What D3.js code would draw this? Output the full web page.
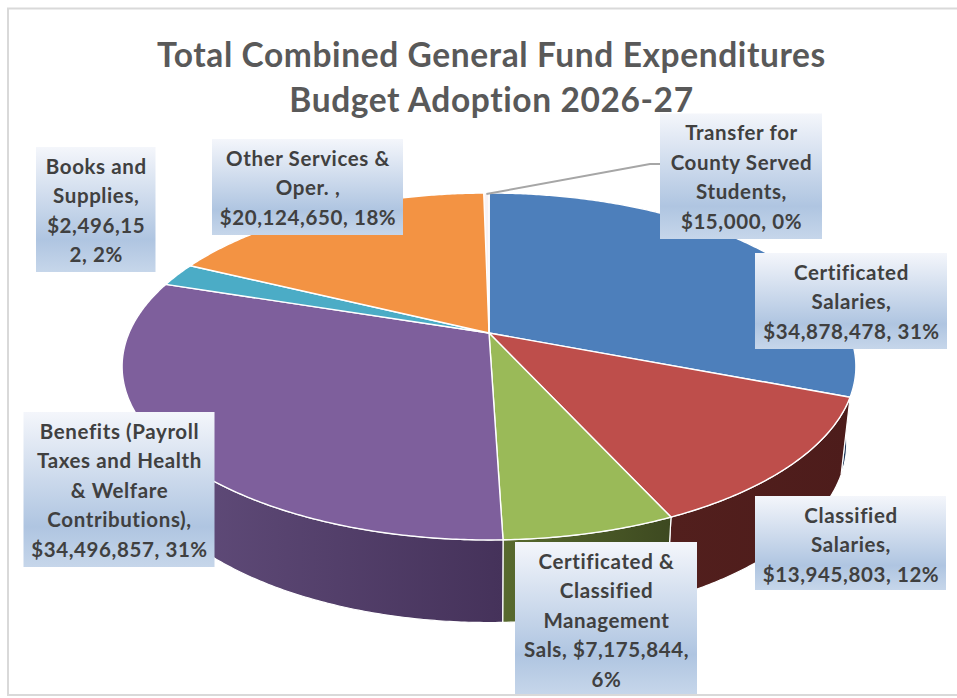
<!DOCTYPE html>
<html>
<head>
<meta charset="utf-8">
<script src="https://cdn.jsdelivr.net/npm/d3@7"></script>
<style>html,body{margin:0;padding:0;background:#fff;overflow:hidden}svg{display:block}</style>
</head>
<body>
<script>
const titleLines = ["Total Combined General Fund Expenditures", "Budget Adoption 2026-27"];
const categories = ["Certificated Salaries", "Classified Salaries", "Certificated & Classified Management Sals", "Benefits (Payroll Taxes and Health & Welfare Contributions)", "Books and Supplies", "Other Services & Oper.", "Transfer for County Served Students"];
const values = [34878478, 13945803, 7175844, 34496857, 2496152, 20124650, 15000];
const labelLines = [
  ["Certificated", "Salaries,", "$34,878,478, 31%"],
  ["Classified", "Salaries,", "$13,945,803, 12%"],
  ["Certificated &", "Classified", "Management", "Sals, $7,175,844,", "6%"],
  ["Benefits (Payroll", "Taxes and Health", "& Welfare", "Contributions),", "$34,496,857, 31%"],
  ["Books and", "Supplies,", "$2,496,15", "2, 2%"],
  ["Other Services &", "Oper. ,", "$20,124,650, 18%"],
  ["Transfer for", "County Served", "Students,", "$15,000, 0%"]
];
const topColors = ["#4d7fbb", "#be4e4b", "#9aba58", "#7e5f9c", "#4bacc6", "#f39343", "#f8f2f3"];
const sideLeft = ["#2a4a72", "#521f1d", "#586a2e", "#65507f", "#2d6f80", "#a05f28", "#999999"];
const sideRight = ["#223c5e", "#4d1c1b", "#3d4920", "#45325a", "#2d6f80", "#a05f28", "#999999"];

// layout
const W = 957, H = 698;
const labelBoxes = [[755,253,192,96],[755,496,191,94],[515,542,182,152],[23.5,412,191,155],[36,147,119.5,125],[212,139,191,96],[660,113.5,162,125.5]];
const top3d = {cx:489, cy:333, a:360, b:167, p:0.193};
const bottom3d = {cx:489, cy:408.4, a:351, b:172.8, p:0.193};
const minVisibleDeg = 1; // a tiny slice still shows as a hairline wedge

const project = (v, deg) => {
  const t = deg * Math.PI / 180, u = Math.sin(t), w = Math.cos(t), d = 1 + v.p * w;
  return [v.cx + v.a * u / d, v.cy - v.b * w / d];
};
const arcPts = (v, s, e) => {
  const n = Math.max(2, Math.ceil((e - s) / 0.5));
  return d3.range(n + 1).map(i => project(v, s + (e - s) * i / n));
};

const svg = d3.select("body").append("svg").attr("width", W).attr("height", H);
const defs = svg.append("defs");
svg.append("rect").attr("width", W).attr("height", H).attr("fill", "#fff");
svg.append("rect").attr("x", 8).attr("y", 8.5).attr("width", 970).attr("height", 686.5)
  .attr("fill", "none").attr("stroke", "#d9d9d9").attr("stroke-width", 2);

const pie = d3.pie().value(d => d).sort(null).startAngle(0).endAngle(2 * Math.PI);
const slices = pie(values).map((s, i) => {
  const e = s.endAngle * 180 / Math.PI, st = s.startAngle * 180 / Math.PI;
  return {i, s: Math.min(st, e - minVisibleDeg), e};
});
const line = d3.line();

// gradients for side walls
slices.forEach(d => {
  const pts = arcPts(top3d, d.s, d.e).map(p => p[0]);
  const lg = defs.append("linearGradient").attr("id", "side" + d.i)
    .attr("gradientUnits", "userSpaceOnUse")
    .attr("x1", d3.min(pts)).attr("x2", d3.max(pts)).attr("y1", 0).attr("y2", 0);
  lg.append("stop").attr("offset", 0).attr("stop-color", sideLeft[d.i]);
  lg.append("stop").attr("offset", 1).attr("stop-color", sideRight[d.i]);
});
const boxGrad = defs.append("linearGradient").attr("id", "boxGrad").attr("x1", 0).attr("x2", 0).attr("y1", 0).attr("y2", 1);
[[0, "#f4f6fb"], [0.74, "#afc5e1"], [1, "#c6d6ea"]].forEach(s => boxGrad.append("stop").attr("offset", s[0]).attr("stop-color", s[1]));

// side walls
svg.append("g").selectAll("path").data(slices).join("path")
  .attr("d", d => line(arcPts(top3d, d.s, d.e).concat(arcPts(bottom3d, d.s, d.e).reverse())) + "Z")
  .attr("fill", d => `url(#side${d.i})`)
  .attr("stroke", "#fff").attr("stroke-width", 1.2).attr("stroke-linejoin", "round");

// top faces
svg.append("g").selectAll("path").data(slices).join("path")
  .attr("d", d => line([[top3d.cx, top3d.cy]].concat(arcPts(top3d, d.s, d.e))) + "Z")
  .attr("fill", d => topColors[d.i])
  .attr("stroke", "#fff").attr("stroke-width", 1.4).attr("stroke-linejoin", "round");

// leader
const leaderStart = project(top3d, (slices[6].s + slices[6].e) / 2);
const tb = labelBoxes[6];
svg.append("path")
  .attr("d", line([[leaderStart[0], leaderStart[1] + 1], [tb[0] - 10, 164], [tb[0], 164]]))
  .attr("fill", "none").attr("stroke", "#a6a6a6").attr("stroke-width", 2);

// labels
const lab = svg.append("g").selectAll("g").data(labelLines).join("g");
lab.append("rect")
  .attr("x", (d, i) => labelBoxes[i][0]).attr("y", (d, i) => labelBoxes[i][1])
  .attr("width", (d, i) => labelBoxes[i][2]).attr("height", (d, i) => labelBoxes[i][3])
  .attr("fill", "url(#boxGrad)");
lab.each(function (lines, i) {
  const b = labelBoxes[i];
  d3.select(this).selectAll("text").data(lines).join("text")
    .attr("x", b[0] + b[2] / 2 + 0.5)
    .attr("y", (d, j) => b[1] + 26.5 + j * 29.6)
    .attr("text-anchor", "middle")
    .attr("font-family", "Lato, 'Open Sans', sans-serif")
    .attr("font-weight", 700).attr("font-size", 20.5).attr("letter-spacing", 0.6).attr("fill", "#404040")
    .text(d => d);
});

// title
svg.append("g").selectAll("text").data(titleLines).join("text")
  .attr("x", 491.5).attr("y", (d, i) => 67 + i * 45)
  .attr("text-anchor", "middle")
  .attr("font-family", "Lato, 'Open Sans', sans-serif")
  .attr("font-weight", 700).attr("font-size", 33.5).attr("letter-spacing", 0.6).attr("fill", "#595959")
  .text(d => d);
</script>
</body>
</html>
